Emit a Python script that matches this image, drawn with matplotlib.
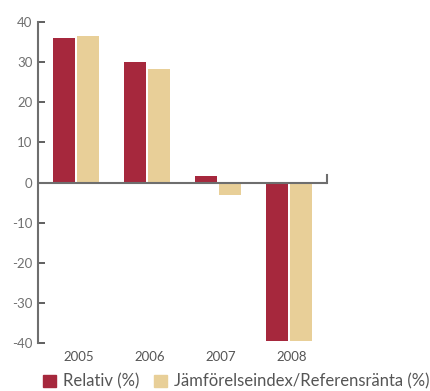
import numpy as np
import matplotlib.pyplot as plt
from matplotlib.patches import Patch

plt.rcParams["font.family"] = ["Lato", "DejaVu Sans"]
plt.rcParams["axes.unicode_minus"] = False

years = ["2005", "2006", "2007", "2008"]
relativ = [36.1, 30.1, 1.5, -39.5]
referens = [36.5, 28.4, -3.0, -39.4]
labels = ["Relativ (%)", "Jämförelseindex/Referensränta (%)"]
colors = ["#A6283D", "#E8CF98"]

fig = plt.figure(figsize=(4.30, 3.91), dpi=100)
ax = fig.add_axes([38 / 430, 1 - 343 / 391, (327 - 38) / 430, (343 - 22) / 391])

x = np.arange(len(years))
w = 0.31
ax.bar(x - w / 2 - 0.014, relativ, w, color=colors[0])
ax.bar(x + w / 2 + 0.014, referens, w, color=colors[1])

ax.set_xlim(-0.535, 3.535)
ax.set_ylim(-40, 40)
ax.set_yticks(range(-40, 41, 10))
ax.set_xticks(x + 0.04)
ax.set_xticklabels(years)

# zero line with a small end mark on the right
ax.axhline(0, color="#6e6e6e", lw=1.5, zorder=3)
ax.axvline(3.535, ymin=0.5, ymax=0.524, color="#6e6e6e", lw=1.5, clip_on=False)

for s in ["top", "right", "bottom"]:
    ax.spines[s].set_visible(False)
ax.spines["left"].set_color("#6e6e6e")
ax.spines["left"].set_linewidth(1.5)

ax.tick_params(axis="y", direction="in", length=5, width=1.2, color="#444444",
               labelsize=9.5, labelcolor="#707070", pad=4)
ax.tick_params(axis="x", length=0, labelsize=9.5, labelcolor="#555555", pad=6)

handles = [Patch(color=c) for c in colors]
fig.legend(handles, labels, loc="lower center", bbox_to_anchor=(0.55, -0.035),
           ncol=2, frameon=False, fontsize=12, handlelength=0.75, handleheight=0.75,
           handletextpad=0.45, columnspacing=0.9, labelcolor="#555555")

fig.savefig("out.png", dpi=100)
